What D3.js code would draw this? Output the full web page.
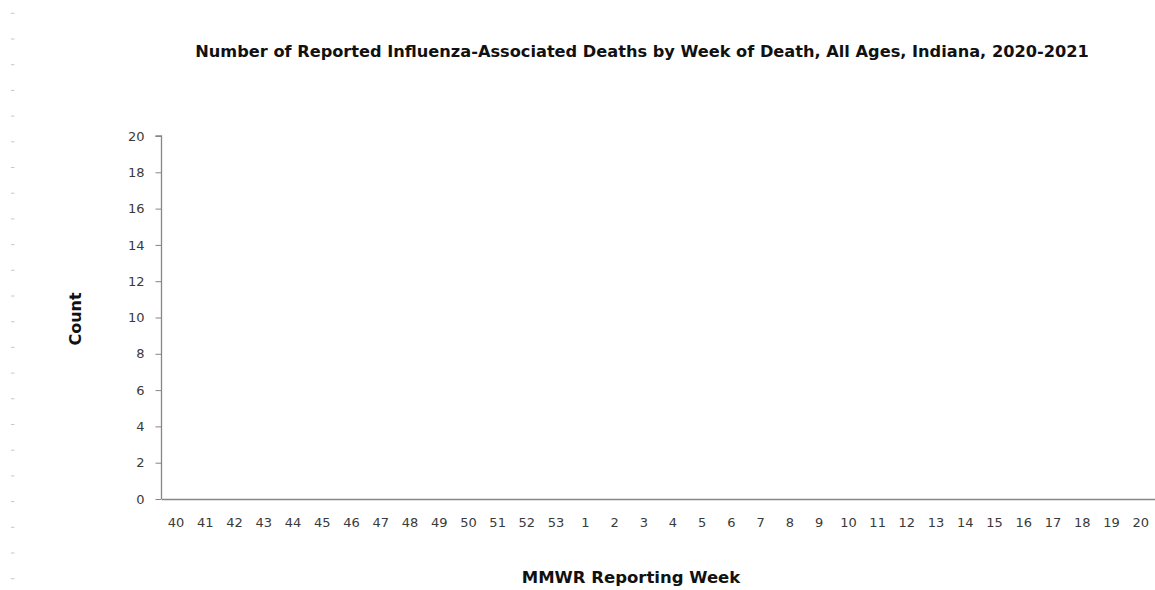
<!DOCTYPE html>
<html>
<head>
<meta charset="utf-8">
<script src="https://cdn.jsdelivr.net/npm/d3@7"></script>
<style>
  html, body { margin: 0; padding: 0; background: #fff; }
  svg { display: block; }
</style>
</head>
<body>
<svg id="chart" width="1155" height="590"></svg>
<script>
const weeks = ["40","41","42","43","44","45","46","47","48","49","50","51","52","53",
  "1","2","3","4","5","6","7","8","9","10","11","12","13","14","15","16","17","18","19","20"];
const deaths = [0,0,0,0,0,0,0,0,0,0,0,0,0,0,0,0,0,0,0,0,0,0,0,0,0,0,0,0,0,0,0,0,0,0];
const yTicks = [0,2,4,6,8,10,12,14,16,18,20];
const title = "Number of Reported Influenza-Associated Deaths by Week of Death, All Ages, Indiana, 2020-2021";
const xTitle = "MMWR Reporting Week";
const yTitle = "Count";

const svg = d3.select("#chart");
const W = 1155, H = 590;
const margin = {left: 161.5, right: 0, top: 136, bottom: 91};
const font = "'DejaVu Sans', sans-serif";
const textColor = "#3a3a3a";
const axisColor = "#868686";

// faint dashed line at left edge
const dashYs = d3.range(23).map(i => 13.3 + i * 25.7);
svg.append("g").selectAll("line").data(dashYs).join("line")
  .attr("x1", 11).attr("x2", 14.5)
  .attr("y1", d => d).attr("y2", d => d)
  .attr("stroke", "#c8c8c8").attr("stroke-width", 1);

const x = d3.scaleBand().domain(weeks).range([margin.left, W - margin.right + 0.3]).paddingInner(0.3).paddingOuter(0.15);
const y = d3.scaleLinear().domain([0, 20]).range([H - margin.bottom, margin.top]);

// bars (all zero)
svg.append("g").selectAll("rect").data(weeks.map((w, i) => ({w, v: deaths[i]}))).join("rect")
  .attr("x", d => x(d.w)).attr("width", x.bandwidth())
  .attr("y", d => y(d.v)).attr("height", d => y(0) - y(d.v))
  .attr("fill", "#4f81bd");

// y axis
const yAxis = svg.append("g").attr("transform", `translate(${margin.left},0)`)
  .call(d3.axisLeft(y).tickValues(yTicks).tickSize(6).tickPadding(11));
yAxis.select(".domain").attr("stroke", axisColor).attr("stroke-width", 1.3).attr("d", `M-6,${y(20)}H0V${y(0)}`);
yAxis.selectAll(".tick line").attr("stroke", axisColor);
yAxis.selectAll(".tick text").attr("fill", textColor).style("font-family", font).style("font-size", "13px");

// x axis
const xAxis = svg.append("g").attr("transform", `translate(0,${y(0)})`)
  .call(d3.axisBottom(x).tickSize(0).tickPadding(19));
xAxis.select(".domain").attr("stroke", axisColor).attr("stroke-width", 1.3);
xAxis.selectAll(".tick text").attr("fill", textColor).style("font-family", font).style("font-size", "13px");

// titles
svg.append("text").attr("x", 642).attr("y", 57).attr("text-anchor", "middle")
  .style("font-family", font).style("font-weight", "bold").style("font-size", "16.2px")
  .attr("fill", "#111").text(title);
svg.append("text").attr("x", 631).attr("y", 583).attr("text-anchor", "middle")
  .style("font-family", font).style("font-weight", "bold").style("font-size", "16.5px")
  .attr("fill", "#111").text(xTitle);
svg.append("text").attr("transform", "translate(81,319) rotate(-90)").attr("text-anchor", "middle")
  .style("font-family", font).style("font-weight", "bold").style("font-size", "16px")
  .attr("fill", "#111").text(yTitle);
</script>
</body>
</html>
